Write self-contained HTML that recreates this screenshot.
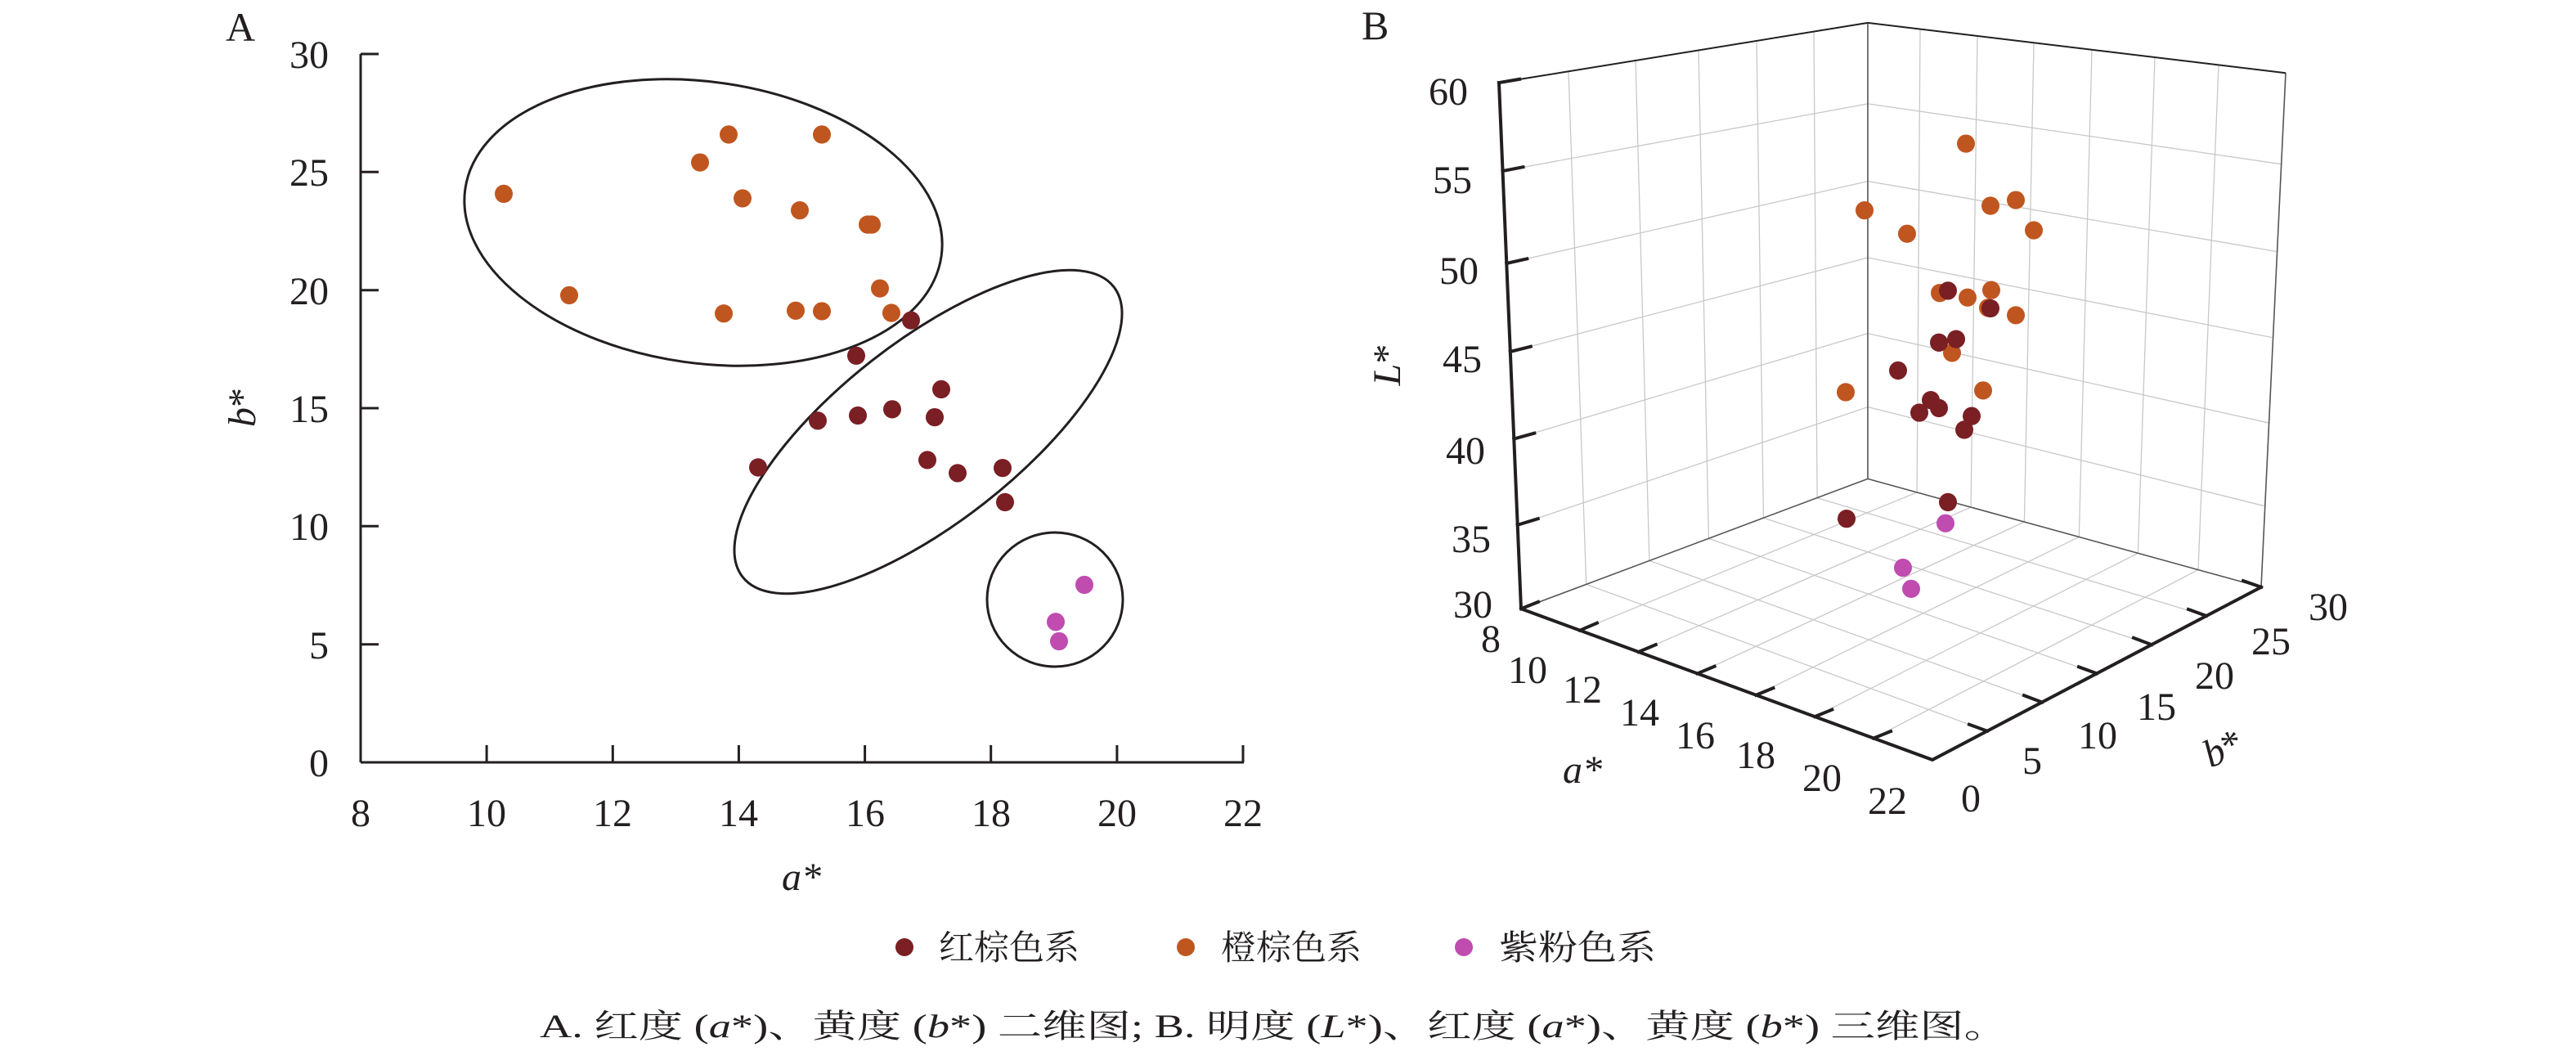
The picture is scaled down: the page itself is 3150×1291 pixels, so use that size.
<!DOCTYPE html>
<html><head><meta charset="utf-8"><style>
html,body{margin:0;padding:0;background:#fff;}
svg{display:block;}
text{font-family:"Liberation Serif","Noto Serif CJK SC",serif;fill:#231f20;}
</style></head><body>
<svg width="3150" height="1291" viewBox="0 0 3150 1291" xmlns="http://www.w3.org/2000/svg">
<!-- Panel A -->
<text x="276" y="50" font-size="50">A</text>
<g stroke="#231f20" stroke-width="3" fill="none">
<line x1="441" y1="66" x2="441" y2="932"/>
<line x1="441" y1="932" x2="1521" y2="932"/>
<line x1="441" y1="66" x2="463" y2="66"/><line x1="441" y1="210.3" x2="463" y2="210.3"/><line x1="441" y1="354.7" x2="463" y2="354.7"/><line x1="441" y1="499" x2="463" y2="499"/><line x1="441" y1="643.3" x2="463" y2="643.3"/><line x1="441" y1="787.7" x2="463" y2="787.7"/>
<line x1="595.1" y1="932" x2="595.1" y2="911"/><line x1="749.3" y1="932" x2="749.3" y2="911"/><line x1="903.4" y1="932" x2="903.4" y2="911"/><line x1="1057.6" y1="932" x2="1057.6" y2="911"/><line x1="1211.7" y1="932" x2="1211.7" y2="911"/><line x1="1365.9" y1="932" x2="1365.9" y2="911"/><line x1="1520" y1="932" x2="1520" y2="911"/>
</g>
<g font-size="48" text-anchor="end">
<text x="402" y="83">30</text><text x="402" y="227">25</text><text x="402" y="372">20</text><text x="402" y="516">15</text><text x="402" y="660">10</text><text x="402" y="805">5</text><text x="402" y="949">0</text>
</g>
<g font-size="48" text-anchor="middle">
<text x="441" y="1010">8</text><text x="595" y="1010">10</text><text x="749" y="1010">12</text><text x="903" y="1010">14</text><text x="1058" y="1010">16</text><text x="1212" y="1010">18</text><text x="1366" y="1010">20</text><text x="1520" y="1010">22</text>
</g>
<text x="980" y="1088" font-size="48" font-style="italic" text-anchor="middle">a*</text>
<text transform="translate(312,498) rotate(-90)" font-size="48" text-anchor="middle"><tspan font-style="italic">b</tspan>*</text>
<g fill="none" stroke="#231f20" stroke-width="3">
<ellipse cx="860" cy="272" rx="294" ry="172" transform="rotate(8 860 272)"/>
<ellipse cx="1135" cy="528" rx="288" ry="111" transform="rotate(-38 1135 528)"/>
<ellipse cx="1290" cy="733" rx="83" ry="82"/>
</g>
<g transform="scale(1,0.69686)">
<g fill="#c0561f">
<ellipse cx="616" cy="340" rx="11" ry="16"/><ellipse cx="696" cy="518" rx="11" ry="16"/><ellipse cx="856" cy="285" rx="11" ry="16"/><ellipse cx="891" cy="236" rx="11" ry="16"/><ellipse cx="908" cy="348" rx="11" ry="16"/><ellipse cx="885" cy="550" rx="11" ry="16"/><ellipse cx="978" cy="369" rx="11" ry="16"/><ellipse cx="973" cy="545" rx="11" ry="16"/><ellipse cx="1005" cy="236" rx="11" ry="16"/><ellipse cx="1005" cy="546" rx="11" ry="16"/><ellipse cx="1061" cy="394" rx="11" ry="16"/><ellipse cx="1066" cy="394" rx="11" ry="16"/><ellipse cx="1076" cy="506" rx="11" ry="16"/><ellipse cx="1090" cy="549" rx="11" ry="16"/>
</g>
<g fill="#7a1f24">
<ellipse cx="1114" cy="562" rx="11" ry="16"/><ellipse cx="1047" cy="624" rx="11" ry="16"/><ellipse cx="1151" cy="683" rx="11" ry="16"/><ellipse cx="1000" cy="738" rx="11" ry="16"/><ellipse cx="1049" cy="729" rx="11" ry="16"/><ellipse cx="1091" cy="718" rx="11" ry="16"/><ellipse cx="1143" cy="732" rx="11" ry="16"/><ellipse cx="927" cy="820" rx="11" ry="16"/><ellipse cx="1134" cy="807" rx="11" ry="16"/><ellipse cx="1171" cy="830" rx="11" ry="16"/><ellipse cx="1226" cy="821" rx="11" ry="16"/><ellipse cx="1229" cy="881" rx="11" ry="16"/>
</g>
<g fill="#c04cb0">
<ellipse cx="1326" cy="1026" rx="11" ry="16"/><ellipse cx="1291" cy="1091" rx="11" ry="16"/><ellipse cx="1295" cy="1125" rx="11" ry="16"/>
</g>
</g>

<!-- Panel B -->
<text x="1665" y="48" font-size="50">B</text>
<g transform="translate(1575,0) scale(1,0.69686)">
<g stroke="#c8c8c8" stroke-width="1.3" fill="none">
<line x1="262.5" y1="300" x2="709" y2="182" vector-effect="non-scaling-stroke"/>
<line x1="267.3" y1="462" x2="709" y2="318" vector-effect="non-scaling-stroke"/>
<line x1="271.8" y1="617" x2="709" y2="452" vector-effect="non-scaling-stroke"/>
<line x1="276.3" y1="770" x2="709" y2="585" vector-effect="non-scaling-stroke"/>
<line x1="280.7" y1="921" x2="709" y2="714" vector-effect="non-scaling-stroke"/>
<line x1="343" y1="125.3" x2="364.7" y2="1025.1" vector-effect="non-scaling-stroke"/>
<line x1="425" y1="106.2" x2="441.9" y2="983.6" vector-effect="non-scaling-stroke"/>
<line x1="502" y1="88.2" x2="514.4" y2="944.7" vector-effect="non-scaling-stroke"/>
<line x1="573" y1="71.6" x2="581.4" y2="908.6" vector-effect="non-scaling-stroke"/>
<line x1="643" y1="55.3" x2="647.1" y2="873.3" vector-effect="non-scaling-stroke"/>
<line x1="709" y1="182" x2="1214.7" y2="288" vector-effect="non-scaling-stroke"/>
<line x1="709" y1="318" x2="1209.6" y2="441.5" vector-effect="non-scaling-stroke"/>
<line x1="709" y1="452" x2="1204.6" y2="592.5" vector-effect="non-scaling-stroke"/>
<line x1="709" y1="585" x2="1199.6" y2="742" vector-effect="non-scaling-stroke"/>
<line x1="709" y1="714" x2="1194.7" y2="888" vector-effect="non-scaling-stroke"/>
<line x1="773" y1="51" x2="769.1" y2="863.8" vector-effect="non-scaling-stroke"/>
<line x1="843" y1="63.1" x2="835" y2="889.8" vector-effect="non-scaling-stroke"/>
<line x1="912" y1="75" x2="900.4" y2="915.6" vector-effect="non-scaling-stroke"/>
<line x1="983" y1="87.3" x2="967.3" y2="942" vector-effect="non-scaling-stroke"/>
<line x1="1060" y1="100.5" x2="1039.4" y2="970.5" vector-effect="non-scaling-stroke"/>
<line x1="1138" y1="113.9" x2="1113" y2="999.6" vector-effect="non-scaling-stroke"/>
<line x1="356.9" y1="1105.9" x2="769.1" y2="863.8" vector-effect="non-scaling-stroke"/>
<line x1="428.7" y1="1143.7" x2="835" y2="889.8" vector-effect="non-scaling-stroke"/>
<line x1="500.6" y1="1181.6" x2="900.4" y2="915.6" vector-effect="non-scaling-stroke"/>
<line x1="572.4" y1="1219.4" x2="967.3" y2="942" vector-effect="non-scaling-stroke"/>
<line x1="644.3" y1="1257.3" x2="1039.4" y2="970.5" vector-effect="non-scaling-stroke"/>
<line x1="716.1" y1="1295.1" x2="1113" y2="999.6" vector-effect="non-scaling-stroke"/>
<line x1="855" y1="1282.5" x2="364.7" y2="1025.1" vector-effect="non-scaling-stroke"/>
<line x1="922" y1="1232" x2="441.9" y2="983.6" vector-effect="non-scaling-stroke"/>
<line x1="989" y1="1181.5" x2="514.4" y2="944.7" vector-effect="non-scaling-stroke"/>
<line x1="1056" y1="1131" x2="581.4" y2="908.6" vector-effect="non-scaling-stroke"/>
<line x1="1123" y1="1080.5" x2="647.1" y2="873.3" vector-effect="non-scaling-stroke"/>
</g>
<g stroke="#555" stroke-width="1.6" fill="none">
<line x1="709" y1="40" x2="709" y2="840" vector-effect="non-scaling-stroke"/>
<line x1="285" y1="1068" x2="709" y2="840" vector-effect="non-scaling-stroke"/>
<line x1="709" y1="840" x2="1190" y2="1030" vector-effect="non-scaling-stroke"/>
<line x1="1220" y1="128" x2="1190" y2="1030" vector-effect="non-scaling-stroke"/>
</g>
<g stroke="#231f20" stroke-width="2" fill="none">
<line x1="258" y1="145" x2="709" y2="40" vector-effect="non-scaling-stroke"/>
<line x1="709" y1="40" x2="1220" y2="128" vector-effect="non-scaling-stroke"/>
</g>
<g stroke="#231f20" stroke-width="4" fill="none" stroke-linecap="square">
<polyline points="258,145 285,1068 788,1333 1190,1030" vector-effect="non-scaling-stroke"/>
<line x1="258" y1="145" x2="283" y2="139" vector-effect="non-scaling-stroke"/>
<line x1="262.5" y1="300" x2="287.5" y2="293" vector-effect="non-scaling-stroke"/>
<line x1="267.3" y1="462" x2="292.3" y2="454" vector-effect="non-scaling-stroke"/>
<line x1="271.8" y1="617" x2="296.8" y2="608" vector-effect="non-scaling-stroke"/>
<line x1="276.3" y1="770" x2="301.3" y2="760" vector-effect="non-scaling-stroke"/>
<line x1="280.7" y1="921" x2="305.7" y2="910" vector-effect="non-scaling-stroke"/>
<line x1="285" y1="1068" x2="306" y2="1056" vector-effect="non-scaling-stroke"/>
<line x1="356.9" y1="1105.9" x2="377.9" y2="1093" vector-effect="non-scaling-stroke"/>
<line x1="428.7" y1="1143.7" x2="449.7" y2="1131" vector-effect="non-scaling-stroke"/>
<line x1="500.6" y1="1181.6" x2="521.6" y2="1169" vector-effect="non-scaling-stroke"/>
<line x1="572.4" y1="1219.4" x2="593.4" y2="1207" vector-effect="non-scaling-stroke"/>
<line x1="644.3" y1="1257.3" x2="665.3" y2="1245" vector-effect="non-scaling-stroke"/>
<line x1="716.1" y1="1295.1" x2="737.1" y2="1283" vector-effect="non-scaling-stroke"/>
<line x1="855" y1="1282.5" x2="833" y2="1271" vector-effect="non-scaling-stroke"/>
<line x1="922" y1="1232" x2="900" y2="1220" vector-effect="non-scaling-stroke"/>
<line x1="989" y1="1181.5" x2="967" y2="1170" vector-effect="non-scaling-stroke"/>
<line x1="1056" y1="1131" x2="1034" y2="1119" vector-effect="non-scaling-stroke"/>
<line x1="1123" y1="1080.5" x2="1101" y2="1069" vector-effect="non-scaling-stroke"/>
<line x1="1190" y1="1030" x2="1168" y2="1019" vector-effect="non-scaling-stroke"/>
</g>
<g fill="#c0561f">
<ellipse cx="829" cy="252" rx="11" ry="16"/><ellipse cx="705" cy="369" rx="11" ry="16"/><ellipse cx="757" cy="410" rx="11" ry="16"/><ellipse cx="859" cy="361" rx="11" ry="16"/><ellipse cx="890" cy="351" rx="11" ry="16"/><ellipse cx="912" cy="404" rx="11" ry="16"/><ellipse cx="797" cy="514" rx="11" ry="16"/><ellipse cx="831" cy="522" rx="11" ry="16"/><ellipse cx="860" cy="509" rx="11" ry="16"/><ellipse cx="856" cy="540" rx="11" ry="16"/><ellipse cx="890" cy="553" rx="11" ry="16"/><ellipse cx="812" cy="619" rx="11" ry="16"/><ellipse cx="682" cy="688" rx="11" ry="16"/><ellipse cx="850" cy="685" rx="11" ry="16"/>
</g>
<g fill="#7a1f24">
<ellipse cx="807" cy="510" rx="11" ry="16"/><ellipse cx="859" cy="541" rx="11" ry="16"/><ellipse cx="796" cy="601" rx="11" ry="16"/><ellipse cx="817" cy="595" rx="11" ry="16"/><ellipse cx="746" cy="650" rx="11" ry="16"/><ellipse cx="786" cy="702" rx="11" ry="16"/><ellipse cx="796" cy="716" rx="11" ry="16"/><ellipse cx="772" cy="724" rx="11" ry="16"/><ellipse cx="836" cy="730" rx="11" ry="16"/><ellipse cx="827" cy="754" rx="11" ry="16"/><ellipse cx="807" cy="881" rx="11" ry="16"/><ellipse cx="683" cy="910" rx="11" ry="16"/>
</g>
<g fill="#c04cb0">
<ellipse cx="804" cy="918" rx="11" ry="16"/><ellipse cx="752" cy="996" rx="11" ry="16"/><ellipse cx="762" cy="1033" rx="11" ry="16"/>
</g>
</g>
<g font-size="48" text-anchor="end">
<text x="1795" y="128">60</text><text x="1800" y="236">55</text><text x="1808" y="347">50</text><text x="1812" y="455">45</text><text x="1816" y="567">40</text><text x="1823" y="675">35</text><text x="1825" y="755">30</text>
</g>
<g font-size="48" text-anchor="middle">
<text x="1823" y="797">8</text><text x="1868" y="835">10</text><text x="1935" y="859">12</text><text x="2005" y="887">14</text><text x="2073" y="915">16</text><text x="2147" y="939">18</text><text x="2228" y="967">20</text><text x="2308" y="995">22</text>
<text x="2410" y="992">0</text><text x="2485" y="946">5</text><text x="2565" y="915">10</text><text x="2637" y="880">15</text><text x="2708" y="842">20</text><text x="2777" y="800">25</text><text x="2847" y="758">30</text>
</g>
<text x="1935" y="957" font-size="48" font-style="italic" text-anchor="middle">a*</text>
<text transform="translate(2725,929) rotate(-25)" font-size="48" text-anchor="middle"><tspan font-style="italic">b</tspan>*</text>
<text transform="translate(1712,446) rotate(-90)" font-size="48" text-anchor="middle"><tspan font-style="italic">L</tspan>*</text>

<!-- Legend -->
<circle cx="1106" cy="1158" r="11" fill="#7a1f24"/>
<text x="1148" y="1173" font-size="42" textLength="172" lengthAdjust="spacingAndGlyphs">红棕色系</text>
<circle cx="1450" cy="1158" r="11" fill="#c0561f"/>
<text x="1493" y="1173" font-size="42" textLength="172" lengthAdjust="spacingAndGlyphs">橙棕色系</text>
<circle cx="1790" cy="1158" r="11" fill="#c04cb0"/>
<text x="1833" y="1173" font-size="42" textLength="192" lengthAdjust="spacingAndGlyphs">紫粉色系</text>
<!-- Caption -->
<text x="660" y="1268" font-size="40" textLength="1796" lengthAdjust="spacingAndGlyphs">A. 红度 (<tspan font-style="italic">a</tspan>*)、黄度 (<tspan font-style="italic">b</tspan>*) 二维图; B. 明度 (<tspan font-style="italic">L</tspan>*)、红度 (<tspan font-style="italic">a</tspan>*)、黄度 (<tspan font-style="italic">b</tspan>*) 三维图。</text>
</svg>
</body></html>
